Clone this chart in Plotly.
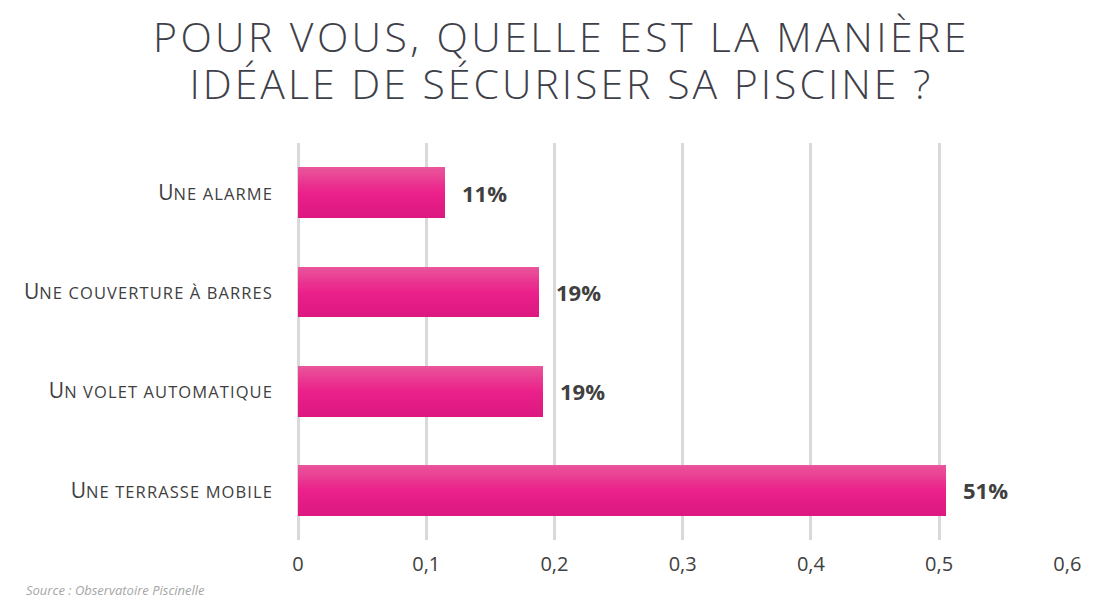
import plotly.graph_objects as go

categories = ["Une alarme", "Une couverture à barres", "Un volet automatique", "Une terrasse mobile"]
values = [0.115, 0.188, 0.191, 0.505]
value_labels = ["11%", "19%", "19%", "51%"]
tick_vals = [0, 0.1, 0.2, 0.3, 0.4, 0.5, 0.6]

title_lines = ["POUR VOUS, QUELLE EST LA MANIÈRE", "IDÉALE DE SÉCURISER SA PISCINE ?"]
source_text = "Source : Observatoire Piscinelle"


def small_caps(s):
    return ('<span style="font-size:21px">' + s[0].upper() + '</span>'
            + '<span style="font-size:16.5px;letter-spacing:1.1px">' + s[1:].upper() + '</span>')


def spaced(s, px):
    return '<span style="font-size:41px;letter-spacing:%spx">%s</span>' % (px, s)


def lerp(c1, c2, t):
    return "#%02x%02x%02x" % tuple(int(round(a + (b - a) * t)) for a, b in zip(c1, c2))


top_c = (233, 86, 155)
mid_c = (235, 33, 138)
bot_c = (220, 24, 128)

fig = go.Figure()
bar_w = 0.51
n = 24
bw = bar_w / n
for i in range(n):
    t = (i + 0.5) / n
    if t < 0.5:
        col = lerp(top_c, mid_c, t / 0.5)
    else:
        col = lerp(mid_c, bot_c, (t - 0.5) / 0.5)
    fig.add_trace(go.Bar(
        x=values, y=categories, orientation="h",
        width=bw * 1.05, offset=-bar_w / 2 + i * bw,
        marker=dict(color=col, line=dict(width=0)),
        hoverinfo="skip" if i else "x+y", showlegend=False,
    ))

for v, c, lab in zip(values, categories, value_labels):
    fig.add_annotation(x=v, y=c, text="<b>" + lab + "</b>", showarrow=False,
                       xanchor="left", xshift=15,
                       font=dict(family="Open Sans, sans-serif", size=22, color="#404040"))

title_font = dict(family="Open Sans, sans-serif", size=36, color="#3f3f4a", weight=300)
fig.add_annotation(xref="paper", yref="paper", x=0.342, y=1.0, yshift=84,
                   text=spaced(title_lines[0], 3.4) + "<br>" + spaced(title_lines[1], 3.0),
                   showarrow=False, xanchor="center", yanchor="middle",
                   font=title_font)
fig.add_annotation(xref="paper", yref="paper", x=-0.3558, y=0, yshift=-50,
                   text="<i>" + source_text + "</i>", showarrow=False, xanchor="left", yanchor="middle",
                   font=dict(family="Open Sans, sans-serif", size=13, color="#a6a6a6"))

fig.update_layout(
    width=1100, height=595,
    barmode="overlay", bargap=0,
    plot_bgcolor="white", paper_bgcolor="white",
    margin=dict(l=290, r=40, t=135, b=63),
    separators=", ",
    xaxis=dict(range=[0, 0.6005], tickvals=tick_vals, showgrid=True, gridcolor="#d9d9d9",
               gridwidth=2.5, zeroline=True, zerolinecolor="#d9d9d9", zerolinewidth=2.5,
               showline=False,
               tickfont=dict(family="Open Sans, sans-serif", size=20, color="#404040"),
               ticklabelstandoff=10),
    yaxis=dict(categoryorder="array", categoryarray=categories, autorange="reversed",
               tickmode="array", tickvals=categories, ticktext=[small_caps(c) for c in categories],
               showgrid=False, zeroline=False, showline=False,
               tickfont=dict(family="Open Sans, sans-serif", size=21, color="#404040"),
               ticklabelstandoff=24),
    showlegend=False,
)

fig.write_html("out.html")
